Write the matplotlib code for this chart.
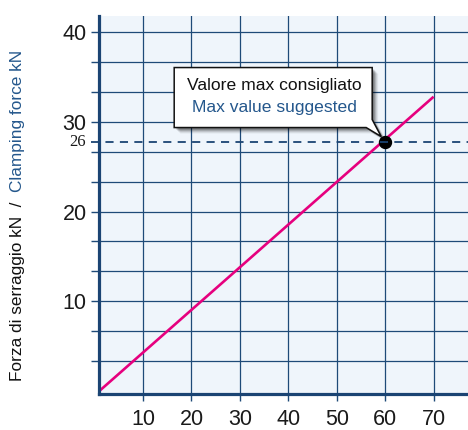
import matplotlib
matplotlib.use("Agg")
import matplotlib.pyplot as plt
from matplotlib.patches import Polygon
from matplotlib.transforms import IdentityTransform, blended_transform_factory
from matplotlib import font_manager

# ---- data ----
x_ticks = [10, 20, 30, 40, 50, 60, 70]
y_grid = [10 / 3 * i for i in range(1, 13)]
y_labeled = [10, 20, 30, 40]
line_x = [1, 70]
line_y = [0, 32.8]
point_x = 60
point_y = 27.8
point_label = "26"
note_it = "Valore max consigliato"
note_en = "Max value suggested"
ylabel_it = "Forza di serraggio kN  /  "
ylabel_en = "Clamping force kN"

names = {f.name for f in font_manager.fontManager.ttflist}
NARROW = "Liberation Sans Narrow" if "Liberation Sans Narrow" in names else "Liberation Sans"
SERIF = "Liberation Serif"

NAVY = "#1b4473"
GRID = "#1e4a78"
BLUE = "#24578c"
MAGENTA = "#e6007e"
BG = "#eff5fb"

fig = plt.figure(figsize=(4.68, 4.30), dpi=100)
W, H = 468, 430
ax = fig.add_axes([99 / W, 36 / H, 369 / W, 378 / H])
ax.set_facecolor(BG)
ax.set_xlim(0.9, 77.1)
ax.set_ylim(-0.35, 41.8)

# grid
for yv in y_grid:
    ax.axhline(yv, color=GRID, lw=0.9, zorder=1)
for xv in x_ticks:
    ax.axvline(xv, color=GRID, lw=0.9, zorder=1)

# ticks
ax.set_xticks(x_ticks)
ax.set_xticklabels([str(v) for v in x_ticks], fontfamily=NARROW, fontsize=15.5, color="#1a1a1a")
ax.set_yticks(y_grid)
ax.set_yticklabels([str(int(round(v))) if any(abs(v - l) < 1e-6 for l in y_labeled) else "" for v in y_grid],
                   fontfamily=NARROW, fontsize=15.5, color="#1a1a1a")
ax.tick_params(axis="x", length=5, width=1, color=GRID, pad=6)
ax.tick_params(axis="y", length=6, width=1, color=GRID, pad=3)

for s in ["top", "right"]:
    ax.spines[s].set_visible(False)
for s in ["left", "bottom"]:
    ax.spines[s].set_color(NAVY)
    ax.spines[s].set_linewidth(2.3)
    ax.spines[s].set_zorder(5)

# main line
ax.plot(line_x, line_y, color=MAGENTA, lw=1.9, zorder=3, solid_capstyle="butt")

# suggested value dashed line (extends a bit left of axis like a tick)
trans = blended_transform_factory(ax.transAxes, ax.transData)
ax.plot([-0.022, 1.0], [point_y, point_y], transform=trans, color=NAVY, lw=1.3,
        dashes=(4.5, 3.5), clip_on=False, zorder=4)
ax.text(-0.035, point_y, point_label, transform=trans, ha="right", va="center",
        fontfamily=SERIF, fontsize=12, color="#1a1a1a")

# point
ax.plot([point_x], [point_y], "o", ms=8.6, color="black", mec="black", zorder=3.5)

# callout box
fig.canvas.draw()
tx, ty = ax.transData.transform((point_x, point_y))
left, right = tx - 211, tx - 13
top, bottom = ty + 74, ty + 14
poly = [(left, bottom), (left, top), (right, top), (right, bottom + 8),
        (tx - 4, ty + 5), (right - 6, bottom)]
for i, (off, a) in enumerate([(6, 0.06), (5, 0.08), (4, 0.12), (3, 0.16), (2, 0.2)]):
    sh = Polygon([(px + off, py - off) for px, py in poly], closed=True,
                 transform=IdentityTransform(), facecolor="black", edgecolor="none",
                 alpha=a, zorder=6)
    fig.add_artist(sh)
box = Polygon(poly, closed=True, transform=IdentityTransform(), facecolor="white",
              edgecolor="#111111", lw=1.1, zorder=7)
fig.add_artist(box)
cx = (left + right) / 2 + 1
fig.text(cx, H - 90, note_it, transform=IdentityTransform(), ha="center", va="baseline",
         fontfamily=NARROW, fontsize=12.6, color="#111111", zorder=8)
fig.text(cx, H - 112, note_en, transform=IdentityTransform(), ha="center", va="baseline",
         fontfamily=NARROW, fontsize=12.6, color=BLUE, zorder=8)

# y label in two colours
t1 = fig.text(18, H - 381, ylabel_it, transform=IdentityTransform(), rotation=90,
              ha="center", va="bottom", fontfamily=NARROW, fontsize=12.4, color="#111111")
fig.canvas.draw()
bb = t1.get_window_extent()
fig.text(18, bb.y1, ylabel_en, transform=IdentityTransform(), rotation=90,
         ha="center", va="bottom", fontfamily=NARROW, fontsize=12.4, color=BLUE)

fig.savefig("out.png", dpi=100)
